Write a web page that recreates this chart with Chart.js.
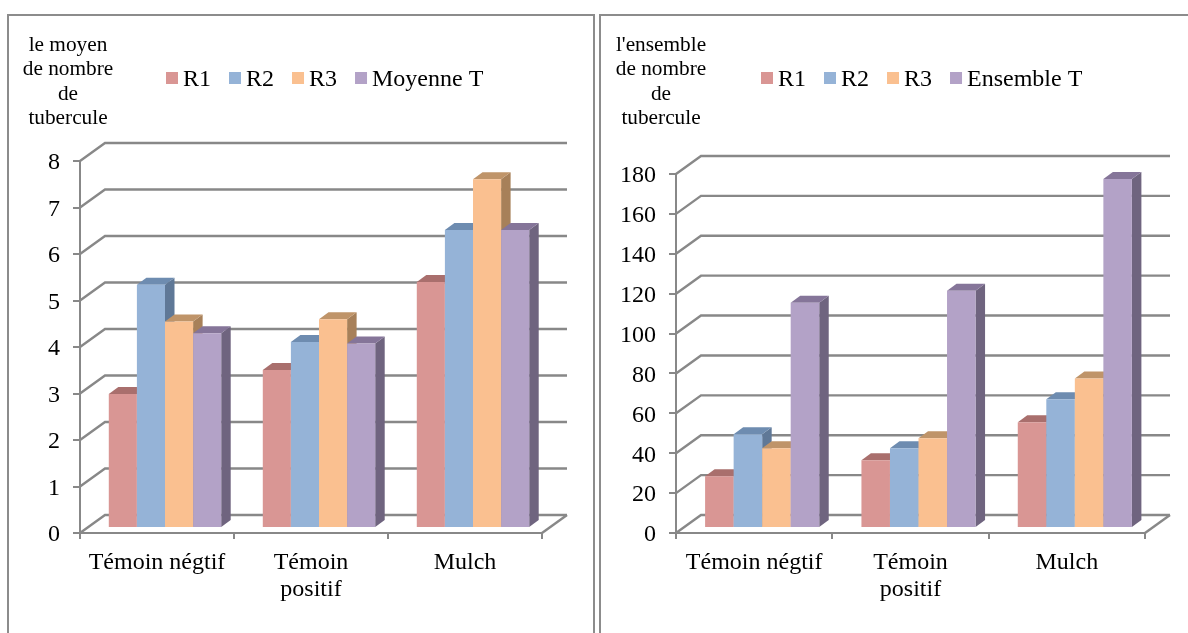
<!DOCTYPE html>
<html lang="fr">
<head>
<meta charset="utf-8">
<title>Nombre de tubercules</title>
<script src="https://cdn.jsdelivr.net/npm/chart.js@4/dist/chart.umd.js"></script>
<style>
    html, body { margin: 0; padding: 0; background: #fff; overflow: hidden; }
    .panel { position: absolute; top: 14px; height: 640px; border: 2px solid #8c8c8c; box-sizing: border-box; }
    #panelLeft { left: 6.5px; width: 588px; }
    #panelRight { left: 599px; width: 620px; }
    /* the original is a slightly soft scan, not crisp vector output */
    canvas { position: absolute; top: 0; filter: blur(0.35px); }
    #chartMoyenne { left: 0; }
    #chartEnsemble { left: 596px; }
</style>
</head>
<body>
<div class="panel" id="panelLeft"></div>
<div class="panel" id="panelRight"></div>
<canvas id="chartMoyenne" width="596" height="633"></canvas>
<canvas id="chartEnsemble" width="592" height="633"></canvas>
<script>
const categories = ['Témoin négtif', ['Témoin', 'positif'], 'Mulch'];
const seriesColors = ['#d99694', '#95b3d7', '#fac090', '#b3a2c7'];
const topColors = ['#a96f6d', '#6e8cb0', '#bf9469', '#857599'];
const sideColors = ['#a56f6e', '#5f7897', '#a78059', '#6f647f'];

// Left chart values
const moyenneNames = ['R1', 'R2', 'R3', 'Moyenne T'];
const moyenneR1 = [2.88, 3.4, 5.29];
const moyenneR2 = [5.23, 4.0, 6.41];
const moyenneR3 = [4.44, 4.49, 7.5];
const moyenneT = [4.19, 3.97, 6.41];
const moyenneTitle = ['le moyen', 'de nombre', 'de', 'tubercule'];

// Right chart values
const ensembleNames = ['R1', 'R2', 'R3', 'Ensemble T'];
const ensembleR1 = [26, 34, 53];
const ensembleR2 = [47, 40, 64.5];
const ensembleR3 = [40, 45, 75];
const ensembleT = [113, 119, 175];
const ensembleTitle = ["l'ensemble", 'de nombre', 'de', 'tubercule'];

const GRID_COLOR = '#888888';
const GRID_WIDTH = 2.4;
const FONT_FAMILY = '"Liberation Serif", "Times New Roman", serif';

// Fake 3D: back wall, floor and bar faces around what the scales give
const depthPlugin = {
    id: 'depth3d',
    beforeDatasetsDraw(chart) {
        const { ctx, scales: { x, y } } = chart;
        const wall = { dx: 25, dy: -18 };
        ctx.save();
        ctx.strokeStyle = GRID_COLOR;
        ctx.lineWidth = GRID_WIDTH;
        y.ticks.forEach(tick => {
            const py = y.getPixelForValue(tick.value);
            ctx.beginPath();
            ctx.moveTo(x.left, py);
            ctx.lineTo(x.left + wall.dx, py + wall.dy);
            ctx.lineTo(x.right + wall.dx, py + wall.dy);
            ctx.stroke();
        });
        ctx.beginPath();
        ctx.moveTo(x.right, y.bottom);
        ctx.lineTo(x.right + wall.dx, y.bottom + wall.dy);
        ctx.stroke();
        ctx.restore();
    },
    beforeDatasetDraw() {
        // bars are painted below, series by series, so the faces overlap properly
        return false;
    },
    afterDatasetsDraw(chart) {
        const { ctx } = chart;
        const dx = 9.5, dy = -7;
        ctx.save();
        ctx.translate(8, -5);
        chart.data.datasets.forEach((dataset, i) => {
            chart.getDatasetMeta(i).data.forEach(bar => {
                const { x, y, base, width } = bar.getProps(['x', 'y', 'base', 'width'], true);
                const left = x - width / 2, right = x + width / 2;

                ctx.fillStyle = sideColors[i];
                ctx.beginPath();
                ctx.moveTo(right, y);
                ctx.lineTo(right + dx, y + dy);
                ctx.lineTo(right + dx, base + dy);
                ctx.lineTo(right, base);
                ctx.closePath();
                ctx.fill();

                ctx.fillStyle = topColors[i];
                ctx.beginPath();
                ctx.moveTo(left, y);
                ctx.lineTo(left + dx, y + dy);
                ctx.lineTo(right + dx, y + dy);
                ctx.lineTo(right, y);
                ctx.closePath();
                ctx.fill();

                bar.draw(ctx);
            });
        });
        ctx.restore();
    }
};

// Axis title and legend sit in fixed places in the original layout
const panelTextPlugin = {
    id: 'panelText',
    afterDraw(chart, args, opts) {
        const { ctx } = chart;
        ctx.save();
        ctx.fillStyle = '#000';
        ctx.textBaseline = 'alphabetic';

        ctx.textAlign = 'center';
        ctx.font = `21.3px ${FONT_FAMILY}`;
        opts.title.forEach((line, i) => {
            ctx.fillText(line, opts.titleX, 51 + i * 24.4);
        });

        ctx.textAlign = 'left';
        ctx.font = `24px ${FONT_FAMILY}`;
        let cursor = opts.legendX;
        chart.data.datasets.forEach((dataset, i) => {
            ctx.fillStyle = seriesColors[i];
            ctx.fillRect(cursor, 72, 12, 12);
            ctx.fillStyle = '#000';
            ctx.fillText(dataset.label, cursor + 17, 86);
            cursor += 17 + ctx.measureText(dataset.label).width + 18;
        });
        ctx.restore();
    }
};

// Liberation Serif sits a little high on a middle baseline, push the y labels down
function nudgeLabels(scale, offset) {
    if (scale.labelsNudged) return;
    scale.labelsNudged = true;
    const drawLabels = scale.drawLabels;
    scale.drawLabels = function (chartArea) {
        this.ctx.save();
        this.ctx.translate(0, offset);
        drawLabels.call(this, chartArea);
        this.ctx.restore();
    };
}

function buildChart(canvasId, cfg) {
    return new Chart(document.getElementById(canvasId), {
        type: 'bar',
        data: {
            labels: categories,
            datasets: cfg.values.map((values, i) => ({
                label: cfg.names[i],
                data: values,
                backgroundColor: seriesColors[i],
                borderWidth: 0,
                barPercentage: 1,
                categoryPercentage: 0.73
            }))
        },
        options: {
            responsive: false,
            animation: false,
            layout: { padding: { top: cfg.top, right: cfg.right, left: 0, bottom: 0 } },
            plugins: {
                legend: { display: false },
                tooltip: { enabled: false },
                panelText: { title: cfg.title, titleX: cfg.titleX, legendX: cfg.legendX }
            },
            scales: {
                x: {
                    afterFit: scale => { scale.height = 100; },
                    grid: { drawOnChartArea: false, color: GRID_COLOR, lineWidth: 2, tickLength: 6 },
                    border: { color: GRID_COLOR, width: 2 },
                    ticks: {
                        color: '#000',
                        padding: 10,
                        autoSkip: false,
                        maxRotation: 0,
                        font: { family: FONT_FAMILY, size: 24, lineHeight: 1.125 }
                    }
                },
                y: {
                    min: 0,
                    max: cfg.max,
                    afterFit: scale => {
                        scale.width = 80;
                        nudgeLabels(scale, 2);
                    },
                    grid: { drawOnChartArea: false, color: GRID_COLOR, lineWidth: 2, tickLength: 7 },
                    border: { color: GRID_COLOR, width: 2 },
                    ticks: {
                        stepSize: cfg.step,
                        color: '#000',
                        padding: 13,
                        font: { family: FONT_FAMILY, size: 24 }
                    }
                }
            }
        },
        plugins: [depthPlugin, panelTextPlugin]
    });
}

document.addEventListener('DOMContentLoaded', () => {
    buildChart('chartMoyenne', {
        names: moyenneNames,
        values: [moyenneR1, moyenneR2, moyenneR3, moyenneT],
        title: moyenneTitle,
        titleX: 68,
        legendX: 166,
        max: 8,
        step: 1,
        top: 161,
        right: 54
    });
    buildChart('chartEnsemble', {
        names: ensembleNames,
        values: [ensembleR1, ensembleR2, ensembleR3, ensembleT],
        title: ensembleTitle,
        titleX: 65,
        legendX: 165,
        max: 180,
        step: 20,
        top: 174,
        right: 43
    });
});
</script>
</body>
</html>
